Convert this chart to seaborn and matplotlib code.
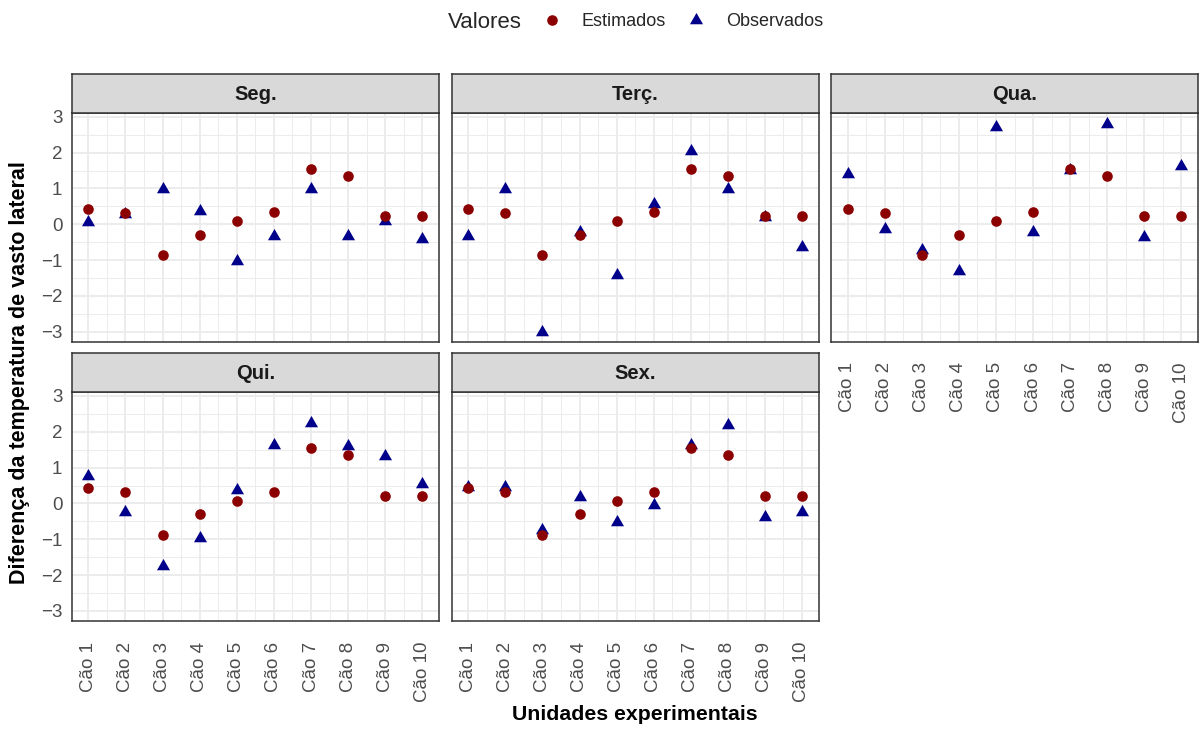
import numpy as np
import pandas as pd
import matplotlib
matplotlib.use("Agg")
import matplotlib.pyplot as plt
from matplotlib.lines import Line2D
from matplotlib.offsetbox import HPacker
import seaborn as sns

# ---------------- data ----------------
caes = ["Cão 1", "Cão 2", "Cão 3", "Cão 4", "Cão 5",
        "Cão 6", "Cão 7", "Cão 8", "Cão 9", "Cão 10"]
dias = ["Seg.", "Terç.", "Qua.", "Qui.", "Sex."]

estimados = [0.42, 0.32, -0.87, -0.30, 0.08, 0.33, 1.54, 1.35, 0.22, 0.22]

obs_seg = [0.07, 0.30, 0.98, 0.38, -1.02, -0.32, 0.99, -0.32, 0.10, -0.41]
obs_ter = [-0.32, 0.99, -3.00, -0.22, -1.42, 0.58, 2.05, 0.99, 0.20, -0.63]
obs_qua = [1.40, -0.12, -0.73, -1.31, 2.72, -0.22, 1.52, 2.80, -0.35, 1.63]
obs_qui = [0.77, -0.23, -1.75, -0.96, 0.37, 1.64, 2.24, 1.59, 1.33, 0.54]
obs_sex = [0.47, 0.47, -0.74, 0.19, -0.53, -0.04, 1.62, 2.18, -0.38, -0.25]
observados = [obs_seg, obs_ter, obs_qua, obs_qui, obs_sex]

rows = []
for d, obs in zip(dias, observados):
    for i, c in enumerate(caes):
        rows.append({"dia": d, "cao": c, "x": i + 1, "Valores": "Observados", "valor": obs[i]})
for d in dias:
    for i, c in enumerate(caes):
        rows.append({"dia": d, "cao": c, "x": i + 1, "Valores": "Estimados", "valor": estimados[i]})
df = pd.DataFrame(rows)

# ---------------- style ----------------
sns.set_theme(style="white")
plt.rcParams["font.family"] = ["Liberation Sans", "DejaVu Sans"]

W, H = 1200, 729
fig = plt.figure(figsize=(W / 100, H / 100), dpi=100)

col_x = [(71.7, 439.0), (451.7, 818.5), (831.0, 1198.0)]
row_y = [(113.3, 341.7), (392.3, 621.0)]
strip_h = 39.0

layout = {"Seg.": (0, 0), "Terç.": (0, 1), "Qua.": (0, 2), "Qui.": (1, 0), "Sex.": (1, 1)}
show_x = {"Seg.": False, "Terç.": False, "Qua.": True, "Qui.": True, "Sex.": True}

col_est = "#8B0000"
col_obs = "#00008B"
tri = [(0.0, 1.555), (1.347, -0.778), (-1.347, -0.778)]

grey20 = "#333333"
grid_c = "#EBEBEB"
tick_fs = 13.5

def fx(px):
    return px / W

def fy(py):
    return 1 - py / H

for d in dias:
    r, c = layout[d]
    x0, x1 = col_x[c]
    y0, y1 = row_y[r]
    ax = fig.add_axes([fx(x0), fy(y1), fx(x1) - fx(x0), fy(y0) - fy(y1)])
    sub = df[df["dia"] == d]
    sns.scatterplot(data=sub[sub["Valores"] == "Observados"], x="x", y="valor",
                    color=col_obs, marker=tri, s=118, linewidth=0, ax=ax, zorder=3)
    sns.scatterplot(data=sub[sub["Valores"] == "Estimados"], x="x", y="valor",
                    color=col_est, marker="o", s=58, linewidth=0, ax=ax, zorder=4)
    ax.set_xlim(0.55, 10.45)
    ax.set_ylim(-3.28, 3.10)
    ax.set_xticks(range(1, 11))
    ax.set_xticks(np.arange(1.5, 10, 1.0), minor=True)
    ax.set_yticks(range(-3, 4))
    ax.set_yticks(np.arange(-2.5, 3.0, 1.0), minor=True)
    ax.grid(True, which="major", color=grid_c, linewidth=1.3, zorder=0)
    ax.grid(True, which="minor", color=grid_c, linewidth=0.65, zorder=0)
    ax.set_axisbelow(True)
    ax.set_facecolor("white")
    for sp in ax.spines.values():
        sp.set_color(grey20)
        sp.set_linewidth(1.1)
    ax.set_xlabel("")
    ax.set_ylabel("")
    ax.tick_params(which="minor", length=0)
    if show_x[d]:
        ax.set_xticklabels(caes, rotation=90, fontsize=tick_fs, color="#4D4D4D")
        ax.tick_params(axis="x", which="major", length=4.3, width=0.9, color=grey20, pad=10.5)
    else:
        ax.set_xticklabels([])
        ax.tick_params(axis="x", which="major", length=0)
    if c == 0:
        ax.set_yticklabels([f"{v}".replace("-", "\u2212") for v in range(-3, 4)],
                           fontsize=tick_fs, color="#4D4D4D")
        ax.tick_params(axis="y", which="major", length=4.3, width=0.9, color=grey20, pad=2.4)
    else:
        ax.set_yticklabels([])
        ax.tick_params(axis="y", which="major", length=0)

    # strip
    sax = fig.add_axes([fx(x0), fy(y0), fx(x1) - fx(x0), strip_h / H])
    sax.set_facecolor("#D9D9D9")
    sax.set_xticks([])
    sax.set_yticks([])
    for sp in sax.spines.values():
        sp.set_color(grey20)
        sp.set_linewidth(1.1)
    sax.text(0.5, 0.48, d, ha="center", va="center", fontsize=14.5,
             fontweight="bold", color="#1A1A1A", transform=sax.transAxes)

# axis titles
fig.text(fx(634.8), fy(714), "Unidades experimentais", ha="center", va="center",
         fontsize=15.3, fontweight="bold", color="black")
fig.text(fx(20), fy(373), "Diferença da temperatura de vasto lateral", ha="center",
         va="center", rotation=90, fontsize=15.5, fontweight="bold", color="black")

# legend
handles = [
    Line2D([], [], linestyle="none", marker="o", markersize=np.sqrt(58),
           markerfacecolor=col_est, markeredgewidth=0),
    Line2D([], [], linestyle="none", marker=tri, markersize=np.sqrt(118),
           markerfacecolor=col_obs, markeredgewidth=0),
]
leg = fig.legend(handles, ["Estimados", "Observados"], title="Valores",
                 loc="center", bbox_to_anchor=(fx(635.5), fy(22)), ncol=2,
                 frameon=False, fontsize=13, title_fontsize=16,
                 handletextpad=1.05, columnspacing=1.1, handlelength=1.2)
title_box = leg._legend_title_box
handle_box = leg._legend_handle_box
leg._legend_box._children = [HPacker(pad=0, sep=14, align="center",
                                     children=[title_box, handle_box])]

fig.savefig("out.png", dpi=100)
